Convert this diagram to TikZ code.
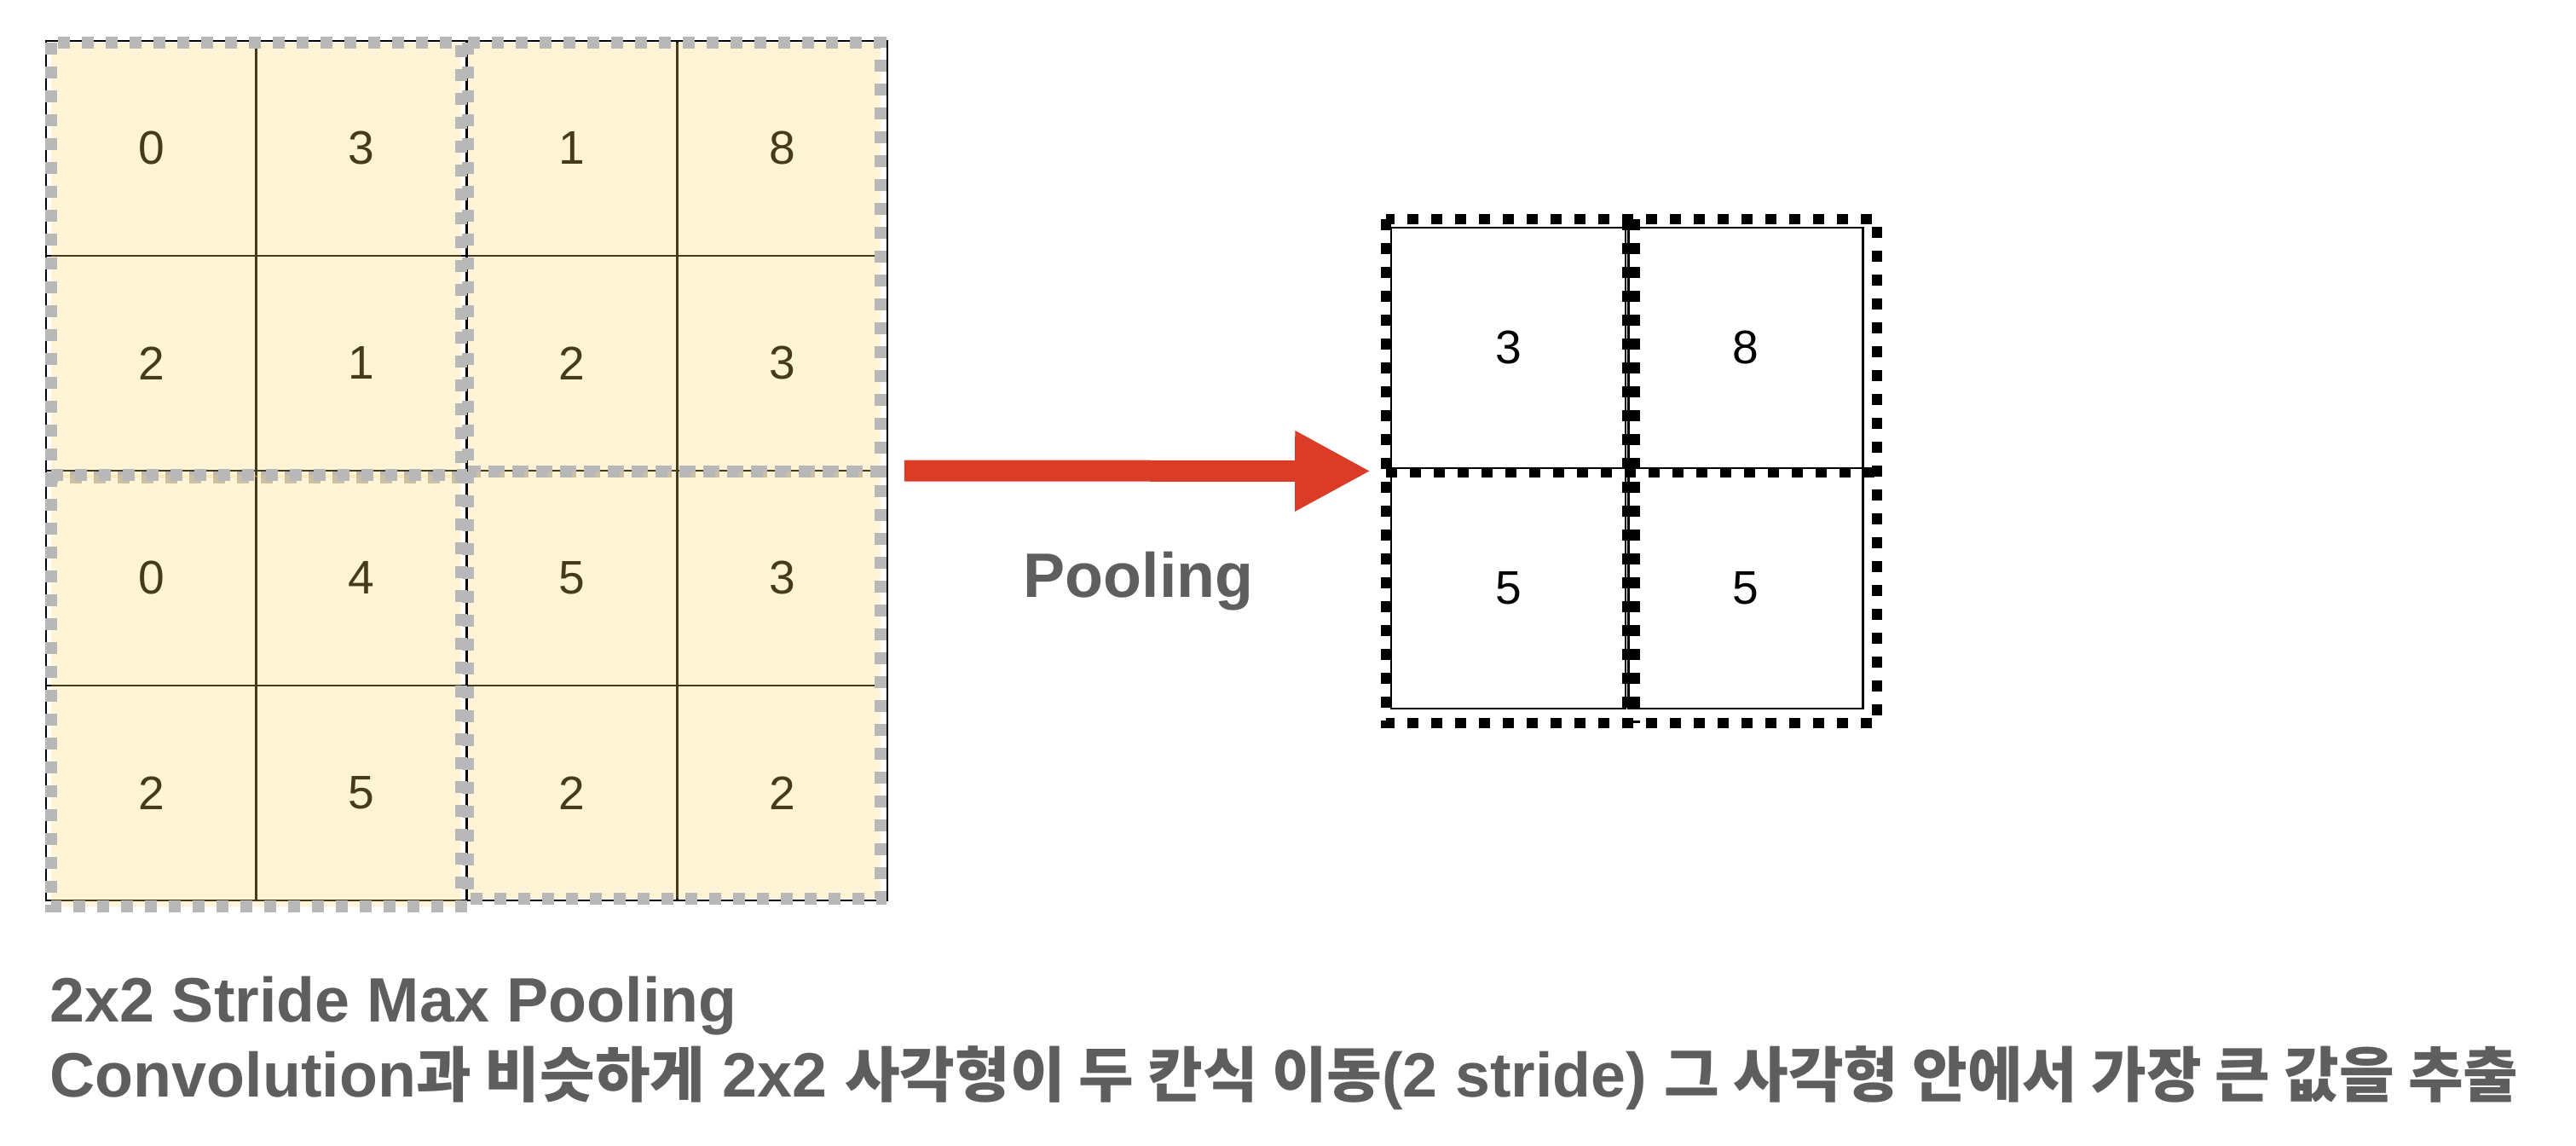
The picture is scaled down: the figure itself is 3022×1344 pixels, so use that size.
\documentclass[tikz,border=0pt]{standalone}
\usepackage{fontspec}
\setmainfont{Liberation Sans}
\newfontfamily\kr{Noto Sans CJK KR}[Scale=0.955]
\usetikzlibrary{arrows.meta}
\definecolor{winfill}{HTML}{FFD966}
\definecolor{wingray}{HTML}{B8B8B8}
\definecolor{arrowred}{HTML}{DA3C27}
\definecolor{txtgray}{HTML}{5E5E5E}
\begin{document}
\begin{tikzpicture}[x=0.25pt,y=-0.25pt,
  cell/.style={draw=black,line width=0.7pt,minimum width=61.69pt,minimum height=63pt,inner sep=0pt,
    font=\fontsize{13.8pt}{16pt}\selectfont},
  rcell/.style={draw=black,line width=0.7pt,minimum width=68.75pt,minimum height=70.5pt,inner sep=0pt,
    font=\fontsize{13.8pt}{16pt}\selectfont},
  winbox/.style={fill=winfill,fill opacity=0.27,draw=wingray,line width=3.4pt,dash pattern=on 3.4pt off 3.6pt},
  poolwin/.style={draw=black,line width=3pt,dash pattern=on 3.2pt off 3.8pt},
  box/.style={draw=none,inner sep=0pt},
  label/.style={anchor=base west,inner sep=0pt,text=txtgray,font=\bfseries\fontsize{18.4pt}{21pt}\selectfont}]
\useasboundingbox (0,0) rectangle (3022,1344);
% left input grid
\foreach \r/\c/\v in {0/0/0,0/1/3,0/2/1,0/3/8,
                      1/0/2,1/1/1,1/2/2,1/3/3,
                      2/0/0,2/1/4,2/2/5,2/3/3,
                      3/0/2,3/1/5,3/2/2,3/3/2}
  \node[cell] (a\r\c) at ({54+246.75*(\c+0.5)},{48+252*(\r+0.5)}) {\v};
\node[box,minimum width=246.75pt,minimum height=252pt] (L) at (547.5,552) {};
% pooling windows
\draw[winbox] (60,50) rectangle (541,560);
\draw[winbox] (549,50) rectangle (1033,553);
\draw[winbox] (60,557) rectangle (541,1063);
\draw[winbox] (549,553) rectangle (1033,1054);
% right output grid
\node[rcell] (b00) at (1769.5,408) {3};
\node[rcell] (b01) at (2048,408) {8};
\node[rcell] (b10) at (1769.5,690) {5};
\node[rcell] (b11) at (2048,690) {5};
\node[box,minimum width=144pt,minimum height=147.75pt] (R) at (1914,552.5) {};
\draw[poolwin] (1626,257) rectangle (2202,848);
\draw[poolwin] (1626,554) -- (2202,554);
\draw[poolwin] (1909,257) -- (1909,848);
\draw[poolwin] (1918,257) -- (1918,848);
% arrow
\draw[arrowred,line width=6.25pt,-{Triangle[length=22.25pt,width=22pt]},shorten <=4.75pt,shorten >=4.25pt] (L.east) -- (R.west);
% labels
\node[label] (pool) at (1200,701) {Pooling};
\node[label] (title) at (58,1199) {2x2 Stride Max Pooling};
\node[label] (desc) at (58,1287) {Convolution{\kr 과 비슷하게} 2x2 {\kr 사각형이 두 칸식 이동}(2 stride) {\kr 그 사각형 안에서 가장 큰 값을 추출}};
\end{tikzpicture}
\end{document}
